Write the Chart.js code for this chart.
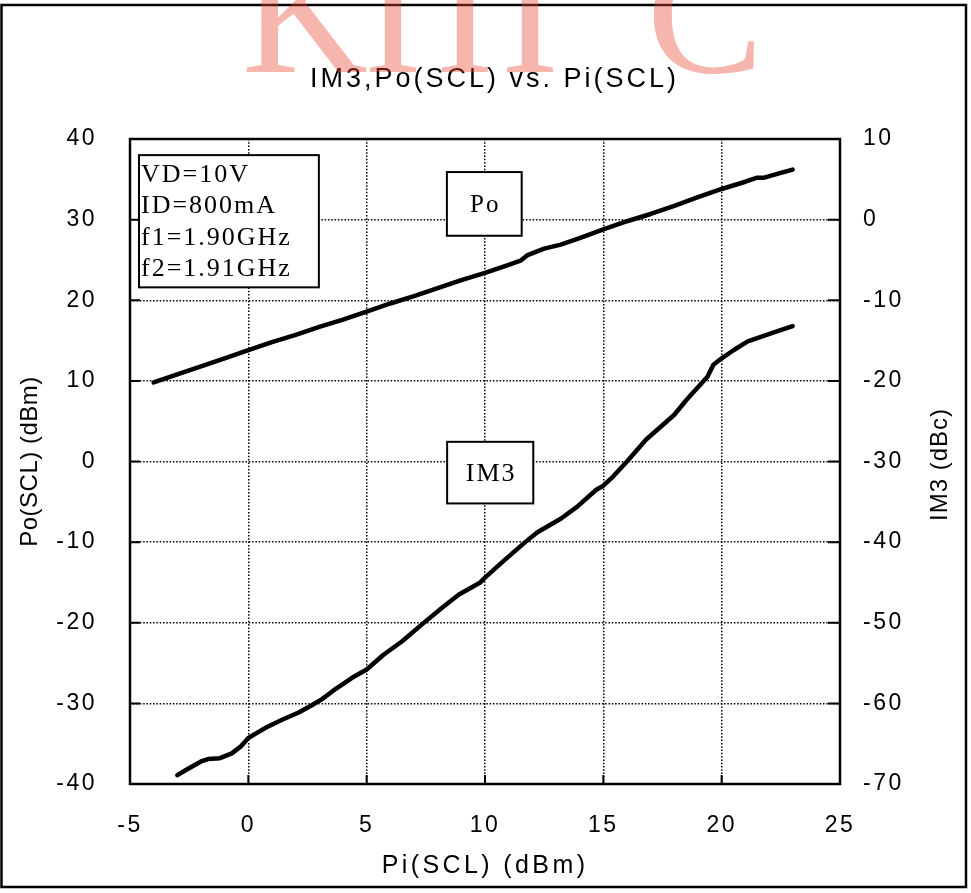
<!DOCTYPE html>
<html lang="en">
<head>
<meta charset="UTF-8">
<title>IM3,Po(SCL) vs. Pi(SCL)</title>
<script src="https://cdn.jsdelivr.net/npm/chart.js"></script>
<style>
  html, body { margin: 0; padding: 0; background: #fff; }
  #wrap { width: 971px; height: 893px; }
</style>
</head>
<body>
<div id="wrap"><canvas id="chart" width="971" height="893"></canvas></div>
<script>
// Po curve: Pi(SCL) in dBm -> Po(SCL) in dBm (left axis)
const piPo = [-4.0, -3.0, -2.0, -1.0, 0.0, 1.0, 2.0, 3.0, 4.0, 5.0, 6.0, 7.0, 8.0, 9.0, 10.0,
              11.0, 11.5, 11.8, 12.5, 13.2, 14.0, 15.0, 16.0, 17.0, 17.5, 18.0, 19.0, 20.0,
              21.0, 21.5, 21.8, 22.5, 23.0];
const poDbm = [9.8, 10.8, 11.8, 12.8, 13.8, 14.8, 15.7, 16.7, 17.6, 18.6, 19.6, 20.5, 21.5, 22.5, 23.4,
               24.4, 24.9, 25.6, 26.4, 26.9, 27.7, 28.8, 29.8, 30.7, 31.2, 31.7, 32.8, 33.8,
               34.7, 35.2, 35.2, 35.8, 36.2];

// IM3 curve: Pi(SCL) in dBm -> IM3 in dBc (right axis)
const piIm3 = [-3.0, -2.6, -2.0, -1.7, -1.2, -0.7, -0.3, 0.0, 0.4, 0.75, 1.45, 2.15, 2.7, 3.1, 3.6,
               4.4, 5.0, 5.7, 6.5, 7.5, 8.2, 8.9, 9.8, 10.0, 10.8, 11.7, 12.2, 13.2, 13.9, 14.7,
               15.0, 15.4, 16.0, 16.8, 18.0, 18.5, 18.9, 19.4, 19.65, 20.0, 20.5, 21.1, 21.5,
               22.3, 23.0];
const im3Dbc = [-68.9, -68.2, -67.2, -66.9, -66.8, -66.2, -65.3, -64.3, -63.6, -63.0, -62.0, -61.1, -60.2, -59.5, -58.4,
                -56.8, -55.8, -54.0, -52.3, -49.8, -48.1, -46.5, -45.0, -44.4, -42.3, -40.0, -38.8, -37.1, -35.6, -33.5,
                -33.0, -31.9, -30.0, -27.3, -24.2, -22.4, -21.1, -19.5, -18.0, -17.2, -16.2, -15.1, -14.7,
                -13.9, -13.2];

// tick labels
const xTicks = [-5, 0, 5, 10, 15, 20, 25];
const poTicks = [-40, -30, -20, -10, 0, 10, 20, 30, 40];
const im3Ticks = [-70, -60, -50, -40, -30, -20, -10, 0, 10];

// note boxes, placed in data units (x = Pi, y = Po axis)
const condLines = ['VD=10V', 'ID=800mA', 'f1=1.90GHz', 'f2=1.91GHz'];
const condBox = [-4.62, 38.0, 2.98, 21.6];
const poBox = [8.39, 35.9, 11.55, 28.0];
const im3Box = [8.40, 2.44, 12.04, -5.2];

const SANS = '"Liberation Sans", Arial, sans-serif';
const SERIF = '"Liberation Serif", "Times New Roman", serif';

function fixedTicks(list) {
    return function(scale) { scale.ticks = list.map(v => ({ value: v })); };
}

function boxRect(chart, b) {
    const x = chart.scales.x, y = chart.scales.y;
    const l = x.getPixelForValue(b[0]), t = y.getPixelForValue(b[1]);
    const r = x.getPixelForValue(b[2]), bt = y.getPixelForValue(b[3]);
    return { l: l, t: t, w: r - l, h: bt - t };
}

// run a draw method of a chart element with its own letter spacing (and shift)
function spaced(obj, method, spacing, ctx, dx) {
    if (!obj || obj['_sp_' + method]) return;
    const orig = obj[method];
    obj[method] = function() {
        ctx.save();
        ctx.letterSpacing = spacing;
        if (dx) ctx.translate(dx, 0);
        const res = orig.apply(this, arguments);
        ctx.restore();
        return res;
    };
    obj['_sp_' + method] = true;
}

const decorPlugin = {
    id: 'decor',
    beforeLayout(chart) { chart.ctx.letterSpacing = '2.5px'; },
    afterLayout(chart) {
        spaced(chart.titleBlock, 'draw', '3px', chart.ctx, 9);
        spaced(chart.scales.x, 'drawTitle', '3.4px', chart.ctx, 0);
        spaced(chart.scales.y, 'drawTitle', '0.5px', chart.ctx, 0);
    },
    beforeDraw(chart) { chart.ctx.letterSpacing = '2.5px'; },
    afterDatasetsDraw(chart) {
        const ctx = chart.ctx;
        const area = chart.chartArea;
        const sx = chart.scales.x, sy = chart.scales.y, sy2 = chart.scales.y2;
        ctx.save();
        ctx.strokeStyle = '#000';
        ctx.setLineDash([]);

        // inward tick marks
        ctx.lineWidth = 2;
        ctx.beginPath();
        sx.ticks.forEach(t => {
            const px = sx.getPixelForValue(t.value);
            ctx.moveTo(px, area.bottom); ctx.lineTo(px, area.bottom - 9);
        });
        sy.ticks.forEach(t => {
            const py = sy.getPixelForValue(t.value);
            ctx.moveTo(area.left, py); ctx.lineTo(area.left + 10, py);
        });
        sy2.ticks.forEach(t => {
            const py = sy2.getPixelForValue(t.value);
            ctx.moveTo(area.right, py); ctx.lineTo(area.right - 12, py);
        });
        ctx.stroke();

        // plot frame
        ctx.lineWidth = 2.5;
        ctx.strokeRect(area.left, area.top, area.right - area.left, area.bottom - area.top);

        // note boxes
        ctx.lineWidth = 2;
        ctx.letterSpacing = '2px';
        let r = boxRect(chart, condBox);
        ctx.fillStyle = '#fff';
        ctx.fillRect(r.l, r.t, r.w, r.h);
        ctx.strokeRect(r.l, r.t, r.w, r.h);
        ctx.fillStyle = '#000';
        ctx.font = '26px ' + SERIF;
        ctx.textAlign = 'left';
        ctx.textBaseline = 'alphabetic';
        condLines.forEach((s, i) => ctx.fillText(s, r.l + 2, r.t + 27 + i * 31.3));

        [[poBox, 'Po', 25], [im3Box, 'IM3', 26]].forEach(([b, txt, size]) => {
            const q = boxRect(chart, b);
            ctx.fillStyle = '#fff';
            ctx.fillRect(q.l, q.t, q.w, q.h);
            ctx.strokeRect(q.l, q.t, q.w, q.h);
            ctx.fillStyle = '#000';
            ctx.font = size + 'px ' + SERIF;
            ctx.textAlign = 'center';
            ctx.textBaseline = 'middle';
            ctx.fillText(txt, q.l + q.w / 2 + 1, q.t + q.h / 2 + 2);
        });

        // right axis title, reading bottom to top
        ctx.letterSpacing = '1px';
        ctx.font = '24px ' + SANS;
        ctx.textAlign = 'center';
        ctx.textBaseline = 'middle';
        ctx.translate(sy2.right - 31, (area.top + area.bottom) / 2 + 3);
        ctx.rotate(-Math.PI / 2);
        ctx.fillText('IM3 (dBc)', 0, 0);
        ctx.restore();
    },
    afterDraw(chart) {
        const ctx = chart.ctx;
        ctx.save();
        ctx.setLineDash([]);
        // outer frame
        ctx.strokeStyle = '#000';
        ctx.lineWidth = 2.5;
        ctx.strokeRect(1.5, 5, 964.5, 882);
        // watermark
        ctx.letterSpacing = '0px';
        ctx.fillStyle = 'rgba(232, 70, 50, 0.4)';
        ctx.font = '175px "Liberation Serif", serif';
        ctx.textAlign = 'center';
        ctx.textBaseline = 'alphabetic';
        [['K', 305], ['I', 393], ['I', 465], ['I', 530], ['C', 705]].forEach(([c, x]) => ctx.fillText(c, x, 72));
        ctx.restore();
    }
};

const gridStyle = { color: '#000', lineWidth: 1.5, drawTicks: false };
const dotted = { display: false, dash: [1.5, 1.8] };

new Chart(document.getElementById('chart'), {
    type: 'line',
    data: {
        datasets: [
            {
                label: 'Po',
                data: piPo.map((x, i) => ({ x: x, y: poDbm[i] })),
                yAxisID: 'y',
                borderColor: '#000',
                borderWidth: 4.5,
                pointRadius: 0,
                tension: 0,
                borderCapStyle: 'round',
                borderJoinStyle: 'round'
            },
            {
                label: 'IM3',
                data: piIm3.map((x, i) => ({ x: x, y: im3Dbc[i] })),
                yAxisID: 'y2',
                borderColor: '#000',
                borderWidth: 4.5,
                pointRadius: 0,
                tension: 0,
                borderCapStyle: 'round',
                borderJoinStyle: 'round'
            }
        ]
    },
    options: {
        responsive: false,
        animation: false,
        layout: { padding: 0 },
        plugins: {
            legend: { display: false },
            tooltip: { enabled: false },
            title: {
                display: true,
                text: 'IM3,Po(SCL) vs. Pi(SCL)',
                color: '#000',
                font: { family: SANS, size: 27, weight: 'normal' },
                padding: { top: 63, bottom: 43.6 }
            }
        },
        scales: {
            x: {
                type: 'linear',
                min: -5, max: 25,
                afterBuildTicks: fixedTicks(xTicks),
                grid: gridStyle,
                border: dotted,
                ticks: { color: '#000', font: { family: SANS, size: 23 }, padding: 28, maxRotation: 0 },
                title: {
                    display: true, text: 'Pi(SCL) (dBm)', color: '#000',
                    font: { family: SANS, size: 25 }, padding: { top: 0, bottom: 12 }
                },
                afterFit: s => { s.height = 109; }
            },
            y: {
                position: 'left',
                min: -40, max: 40,
                afterBuildTicks: fixedTicks(poTicks),
                grid: gridStyle,
                border: dotted,
                ticks: { color: '#000', font: { family: SANS, size: 23 }, padding: 33 },
                title: {
                    display: true, text: 'Po(SCL) (dBm)', color: '#000',
                    font: { family: SANS, size: 24 }, padding: { top: 15.6, bottom: 0 }
                },
                afterFit: s => { s.width = 130; }
            },
            y2: {
                position: 'right',
                min: -70, max: 10,
                afterBuildTicks: fixedTicks(im3Ticks),
                grid: { drawOnChartArea: false, drawTicks: false },
                border: { display: false },
                ticks: { color: '#000', font: { family: SANS, size: 23 }, padding: 23 },
                afterFit: s => { s.width = 131; }
            }
        }
    },
    plugins: [decorPlugin]
});
</script>
</body>
</html>
